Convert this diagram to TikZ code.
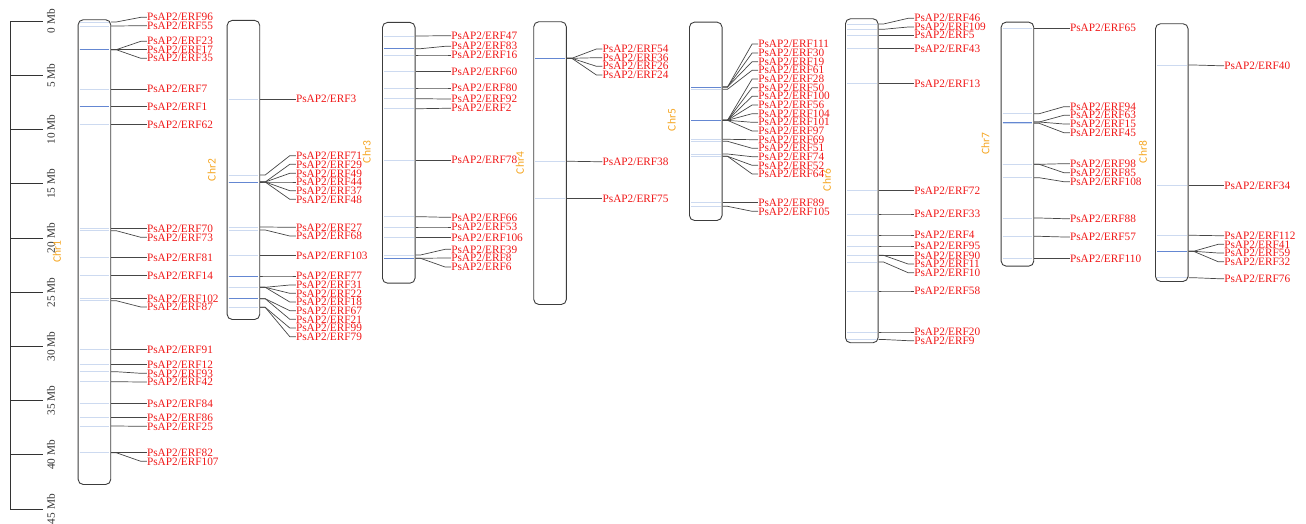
\documentclass[tikz,border=0pt]{standalone}
\usepackage{fontspec}
\setmainfont{Liberation Serif}
\newfontfamily\chrfont{Carlito}
\usetikzlibrary{positioning, calc}
\definecolor{genered}{RGB}{240,24,24}
\definecolor{chrorange}{RGB}{245,166,35}
\definecolor{chrline}{RGB}{60,60,60}
\definecolor{linkgray}{RGB}{70,70,70}
\definecolor{bandlight}{RGB}{205,218,240}
\definecolor{banddark}{RGB}{100,135,210}

\begin{document}
\begin{tikzpicture}[x=1pt, y=-1pt,
  chrom/.style={draw=chrline, fill=white, rounded corners=5pt, line width=0.9pt,
                minimum width=32.6pt, inner sep=0pt, anchor=north west},
  gname/.style={anchor=west, inner sep=0pt, text=genered,
                font=\fontsize{11.3}{11}\selectfont, text height=7.4pt, text depth=0pt},
  glink/.style={draw=linkgray, line width=0.7pt},
  gband/.style={draw=bandlight, line width=0.8pt},
  gbanddark/.style={draw=banddark, line width=0.8pt},
  chrname/.style={text=chrorange, rotate=90, inner sep=0pt,
                  font=\chrfont\fontsize{11.5}{12}\selectfont},
  mblabel/.style={rotate=90, inner sep=0pt, text=black!80,
                  font=\fontsize{11.3}{12}\selectfont},
  scaleline/.style={draw=black!80, line width=0.9pt}]

  \useasboundingbox (0,0) rectangle (1306,524);

  % scale bar
  \foreach \k in {0,...,9}
    \coordinate (t\k) at (10,{21.3+54.2*\k});
  \draw[scaleline] (t0) -- (t9);
  \foreach \k in {0,...,9}{
    \pgfmathtruncatemacro\mb{5*\k}
    \draw[scaleline] (t\k) -- ++(33,0);
    \node[mblabel] (m\k) at ([xshift=41pt]t\k) {\mb\ Mb};
  }

  % chromosomes
  \node[chrom, minimum height=464.7pt] (chr1) at (77.7,19.3)  {};
  \node[chrom, minimum height=299pt]   (chr2) at (226.7,20)   {};
  \node[chrom, minimum height=260.7pt] (chr3) at (382,22)     {};
  \node[chrom, minimum height=282.7pt] (chr4) at (533.3,21.3) {};
  \node[chrom, minimum height=198.3pt] (chr5) at (689,21.7)   {};
  \node[chrom, minimum height=324pt]   (chr6) at (845,18.3)   {};
  \node[chrom, minimum height=244pt]   (chr7) at (1000.7,21.7){};
  \node[chrom, minimum height=257.7pt] (chr8) at (1155,23.3)  {};

  \node[chrname] (c1) at (57,251.6)   {Chr1};
  \node[chrname] (c2) at (211.7,170)  {Chr2};
  \node[chrname] (c3) at (366.7,152)  {Chr3};
  \node[chrname] (c4) at (520,163)    {Chr4};
  \node[chrname] (c5) at (671.7,120)  {Chr5};
  \node[chrname] (c6) at (827,180)    {Chr6};
  \node[chrname] (c7) at (985.5,143.7){Chr7};
  \node[chrname] (c8) at (1143,152)   {Chr8};

  % genes: number / position on chromosome / label height
  \foreach \c/\list in {
    chr1/{96/22/17.3, 55/26/25.7, 23/49.7/41.3, 17/49.7/49.7, 35/49.7/58.3,
          7/89.3/89.3, 1/106.7/106.7, 62/124.7/124.7, 70/228.7/228.7,
          73/230.7/237.3, 81/257.7/257.7, 14/275.3/275.3, 102/298.3/298.3,
          87/300.7/307, 91/349.3/349.3, 12/364.3/364.3, 93/371.7/373.3,
          42/381.7/382, 84/403.3/403.3, 86/417.3/417.3, 25/426/426.3,
          82/452.7/452.7, 107/452.7/461.3},
    chr2/{3/99.3/99.3, 71/175/155.7, 29/182/164.3, 49/182/173.3, 44/182/182,
          37/182/190.7, 48/182/199.3, 27/227/227.3, 68/230/236,
          103/255.7/255.7, 77/276/276, 31/287.3/285, 22/287.3/293.3,
          18/287.3/302, 67/298.7/310.7, 21/298.7/319.3, 99/307.3/328,
          79/307.3/336.7},
    chr3/{47/36/35.7, 83/48.7/46.3, 16/55/55, 60/71.7/71.7, 80/88/88,
          92/98.7/99, 2/108.7/108.3, 78/160.3/160.3, 66/216.7/217.3,
          53/227/227, 106/237.7/237.7, 39/255/249.3, 8/258.3/258, 6/258.3/267},
    chr4/{54/58.3/49, 36/58.3/57.7, 26/58.3/66.3, 24/58.3/75,
          38/161.3/161.7, 75/198.3/198.3},
    chr5/{111/87/44, 30/87/53, 19/87/61.7, 61/89.3/70.3, 28/120.3/79,
          50/120.3/87.7, 100/120.3/96.3, 56/120.3/105, 104/120.3/113.7,
          101/120.3/122.3, 97/120.3/131, 69/139.3/139.7, 51/141.3/148.3,
          74/154/156.7, 52/156.3/165.3, 64/156.3/174, 89/202.3/202.3,
          105/206.3/211.3},
    chr6/{46/24/18.3, 109/29.3/27, 5/35.3/35.3, 43/48.7/48.7, 13/83.7/83.7,
          72/190.7/190.7, 33/214/214, 4/235/235, 95/246/246, 90/255.3/255.3,
          11/255.3/264, 10/262/272.7, 58/291/291, 20/332/332, 9/339.5/340.7},
    chr7/{65/28.3/28.3, 94/113.7/106.7, 63/122/115.3, 15/122/124,
          45/123.3/132.7, 98/164.3/163.7, 85/164.3/172.7, 108/177.7/181.7,
          88/218/218.7, 57/236.3/237, 110/258.3/258.3},
    chr8/{40/65/65.7, 34/185.3/185.3, 112/235.3/235.7, 41/251.3/244.3,
          59/251.3/253, 32/251.3/261.7, 76/277.7/278.7}}{
    \foreach \g/\gy/\ly in \list{
      \draw[gband] ([xshift=2pt]\c.west |- 0,\gy) -- ([xshift=-2pt]\c.east |- 0,\gy);
      \node[gname] (e\g) at ([xshift=35.6pt]\c.east |- 0,\ly) {PsAP2/ERF\g};
      \draw[glink] (\c.east |- 0,\gy) -- ++(5,0) -- ([xshift=-6pt]e\g.west) -- (e\g.west);
    }
  }

  % denser bands
  \foreach \c/\gy in {chr1/49.7, chr1/106.7, chr2/182, chr2/276, chr2/298.7,
                      chr3/48.7, chr3/258.3, chr4/58.3, chr5/87, chr5/120.3,
                      chr7/122, chr8/251.3}
    \draw[gbanddark] ([xshift=2pt]\c.west |- 0,\gy) -- ([xshift=-2pt]\c.east |- 0,\gy);
\end{tikzpicture}
\end{document}
